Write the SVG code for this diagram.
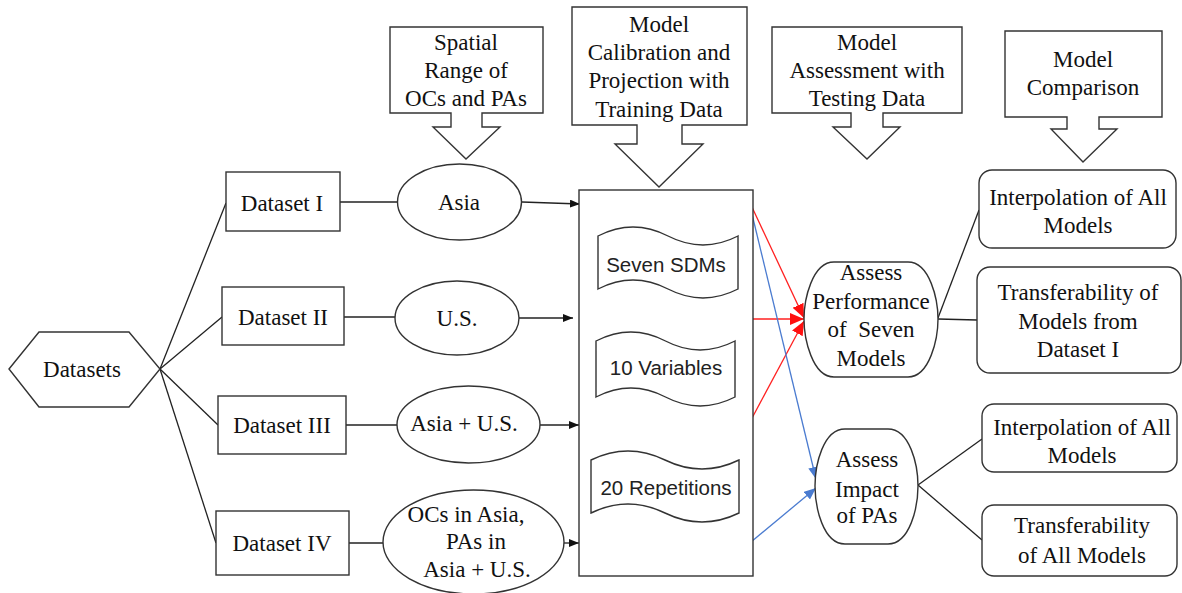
<svg xmlns="http://www.w3.org/2000/svg" width="1182" height="593" viewBox="0 0 1182 593">
<style>
.s{fill:#fff;stroke:#333;stroke-width:1.4}
.t{font-family:"Liberation Serif","Times New Roman",Times,serif;font-size:23px;fill:#111;text-anchor:middle}
.c{font-family:"Liberation Sans",Arial,sans-serif;font-size:20.5px;fill:#222;text-anchor:middle}
.k{stroke:#222;stroke-width:1.3;fill:none}
.r{stroke:#ff2020;stroke-width:1.3;fill:none}
.b{stroke:#4a7bd0;stroke-width:1.3;fill:none}
</style>
<defs>
<marker id="ak" markerUnits="userSpaceOnUse" markerWidth="11" markerHeight="9" refX="10" refY="4" orient="auto"><path d="M0,0 L10,4 L0,8 Z" fill="#111"/></marker>
<marker id="ar" markerUnits="userSpaceOnUse" markerWidth="15" markerHeight="13" refX="14" refY="6" orient="auto"><path d="M0,0 L14,6 L0,12 Z" fill="#ff1010"/></marker>
<marker id="ab" markerUnits="userSpaceOnUse" markerWidth="13" markerHeight="11" refX="12" refY="5" orient="auto"><path d="M0,0 L12,5 L0,10 Z" fill="#4a7bd0"/></marker>
</defs>
<rect width="1182" height="593" fill="#fff"/>

<g id="connectors">
<line class="k" x1="160" y1="369" x2="226" y2="203"/>
<line class="k" x1="160" y1="369" x2="222" y2="317"/>
<line class="k" x1="160" y1="369" x2="218" y2="425"/>
<line class="k" x1="160" y1="369" x2="216" y2="543"/>
<line class="k" x1="340" y1="202" x2="397" y2="202"/>
<line class="k" x1="344" y1="317" x2="395" y2="317"/>
<line class="k" x1="346" y1="425" x2="397" y2="425"/>
<line class="k" x1="349" y1="543" x2="383" y2="543"/>
<line class="k" x1="522" y1="202" x2="580" y2="204" marker-end="url(#ak)"/>
<line class="k" x1="519" y1="318" x2="573" y2="318" marker-end="url(#ak)"/>
<line class="k" x1="540" y1="425" x2="579" y2="425" marker-end="url(#ak)"/>
<line class="k" x1="564" y1="543" x2="579" y2="543" marker-end="url(#ak)"/>
<line class="r" x1="751" y1="205" x2="804" y2="318" marker-end="url(#ar)"/>
<line class="r" x1="751" y1="319" x2="804" y2="319" marker-end="url(#ar)"/>
<line class="r" x1="751" y1="420" x2="804" y2="321" marker-end="url(#ar)"/>
<line class="b" x1="751" y1="210" x2="816" y2="479" marker-end="url(#ab)"/>
<line class="b" x1="751" y1="542" x2="816" y2="488" marker-end="url(#ab)"/>
<line class="k" x1="938" y1="318" x2="979" y2="210"/>
<line class="k" x1="938" y1="319" x2="977" y2="320"/>
<line class="k" x1="918" y1="485" x2="982" y2="439"/>
<line class="k" x1="918" y1="485" x2="982" y2="540"/>
</g>

<g id="spatial">
<path class="s" d="M390,27 H543 V113 H482 V127 H500 L466,159 L433,127 H451 V113 H390 Z"/>
<text class="t" x="466" y="50">Spatial</text>
<text class="t" x="466" y="78">Range of</text>
<text class="t" x="466" y="106">OCs and PAs</text>
</g>
<g id="calibration">
<path class="s" d="M572,7 H747 V125 H682 V144 H703 L659,187 L615,144 H637 V125 H572 Z"/>
<text class="t" x="659" y="32">Model</text>
<text class="t" x="659" y="60">Calibration and</text>
<text class="t" x="659" y="88">Projection with</text>
<text class="t" x="659" y="117">Training Data</text>
</g>
<g id="assessment">
<path class="s" d="M772,27 H962 V113 H883 V127 H900 L867,159 L833,127 H851 V113 H772 Z"/>
<text class="t" x="867" y="50">Model</text>
<text class="t" x="867" y="78">Assessment with</text>
<text class="t" x="867" y="106">Testing Data</text>
</g>
<g id="comparison">
<path class="s" d="M1005,31 H1162 V117 H1099 V129 H1117 L1083,162 L1051,129 H1067 V117 H1005 Z"/>
<text class="t" x="1083" y="67">Model</text>
<text class="t" x="1083" y="95">Comparison</text>
</g>

<g id="datasets">
<polygon class="s" points="9,369 39,332 129,332 160,369 129,407 39,407"/>
<text class="t" x="82" y="377">Datasets</text>
</g>
<g id="dataset1"><rect class="s" x="226" y="172" width="114" height="59"/><text class="t" x="282" y="211">Dataset I</text></g>
<g id="dataset2"><rect class="s" x="222" y="287" width="122" height="58"/><text class="t" x="283" y="325">Dataset II</text></g>
<g id="dataset3"><rect class="s" x="218" y="396" width="128" height="58"/><text class="t" x="282" y="433">Dataset III</text></g>
<g id="dataset4"><rect class="s" x="216" y="511" width="133" height="64"/><text class="t" x="282" y="551">Dataset IV</text></g>

<g id="asia"><ellipse class="s" cx="459.5" cy="202" rx="62" ry="38"/><text class="t" x="459" y="210">Asia</text></g>
<g id="us"><ellipse class="s" cx="457" cy="318" rx="62" ry="37"/><text class="t" x="457" y="326">U.S.</text></g>
<g id="asiaus"><ellipse class="s" cx="468.5" cy="424.5" rx="71.5" ry="38.5"/><text class="t" x="464" y="431">Asia + U.S.</text></g>
<g id="ocs"><ellipse class="s" cx="473.5" cy="542" rx="90.5" ry="52"/>
<text class="t" x="466" y="522">OCs in Asia,</text>
<text class="t" x="476" y="549">PAs in</text>
<text class="t" x="477" y="577">Asia + U.S.</text></g>

<g id="calibbox">
<rect class="s" x="579" y="190" width="174" height="386"/>
</g>
<g id="sdms">
<path class="s" d="M598,236 Q633,218 668,236 T738,236 V289 Q703,307 668,289 T598,289 Z"/>
<text class="c" x="666" y="272">Seven SDMs</text>
</g>
<g id="variables">
<path class="s" d="M596,341 Q631,323 665.5,341 T735,341 V397 Q700,415 665.5,397 T596,397 Z"/>
<text class="c" x="666" y="375">10 Variables</text>
</g>
<g id="repetitions">
<path class="s" d="M591,460 Q628,442 665,460 T739,460 V513 Q702,531 665,513 T591,513 Z"/>
<text class="c" x="666" y="495">20 Repetitions</text>
</g>

<g id="perf">
<path class="s" d="M834,262 H908 C930,262 938,300 938,319 C938,338 930,377 908,377 H834 C812,377 804,338 804,319 C804,300 812,262 834,262 Z"/>
<text class="t" x="871" y="280">Assess</text>
<text class="t" x="871" y="309">Performance</text>
<text class="t" x="871" y="337" xml:space="preserve">of  Seven</text>
<text class="t" x="871" y="366">Models</text>
</g>
<g id="impact">
<path class="s" d="M845,429 H888 C910,429 918,465 918,486 C918,507 910,544 888,544 H845 C823,544 815,507 815,486 C815,465 823,429 845,429 Z"/>
<text class="t" x="867" y="467">Assess</text>
<text class="t" x="867" y="497">Impact</text>
<text class="t" x="867" y="523">of PAs</text>
</g>
<g id="interp1"><rect class="s" x="979" y="170" width="197" height="78" rx="13"/>
<text class="t" x="1078" y="205">Interpolation of All</text><text class="t" x="1078" y="233">Models</text></g>
<g id="transfer1"><rect class="s" x="977" y="267" width="204" height="106" rx="13"/>
<text class="t" x="1078" y="300">Transferability of</text><text class="t" x="1078" y="329">Models from</text><text class="t" x="1078" y="357">Dataset I</text></g>
<g id="interp2"><rect class="s" x="982" y="404" width="195" height="68" rx="12"/>
<text class="t" x="1082" y="435">Interpolation of All</text><text class="t" x="1082" y="463">Models</text></g>
<g id="transfer2"><rect class="s" x="982" y="505" width="195" height="71" rx="12"/>
<text class="t" x="1082" y="533">Transferability</text><text class="t" x="1082" y="563">of All Models</text></g>
</svg>
